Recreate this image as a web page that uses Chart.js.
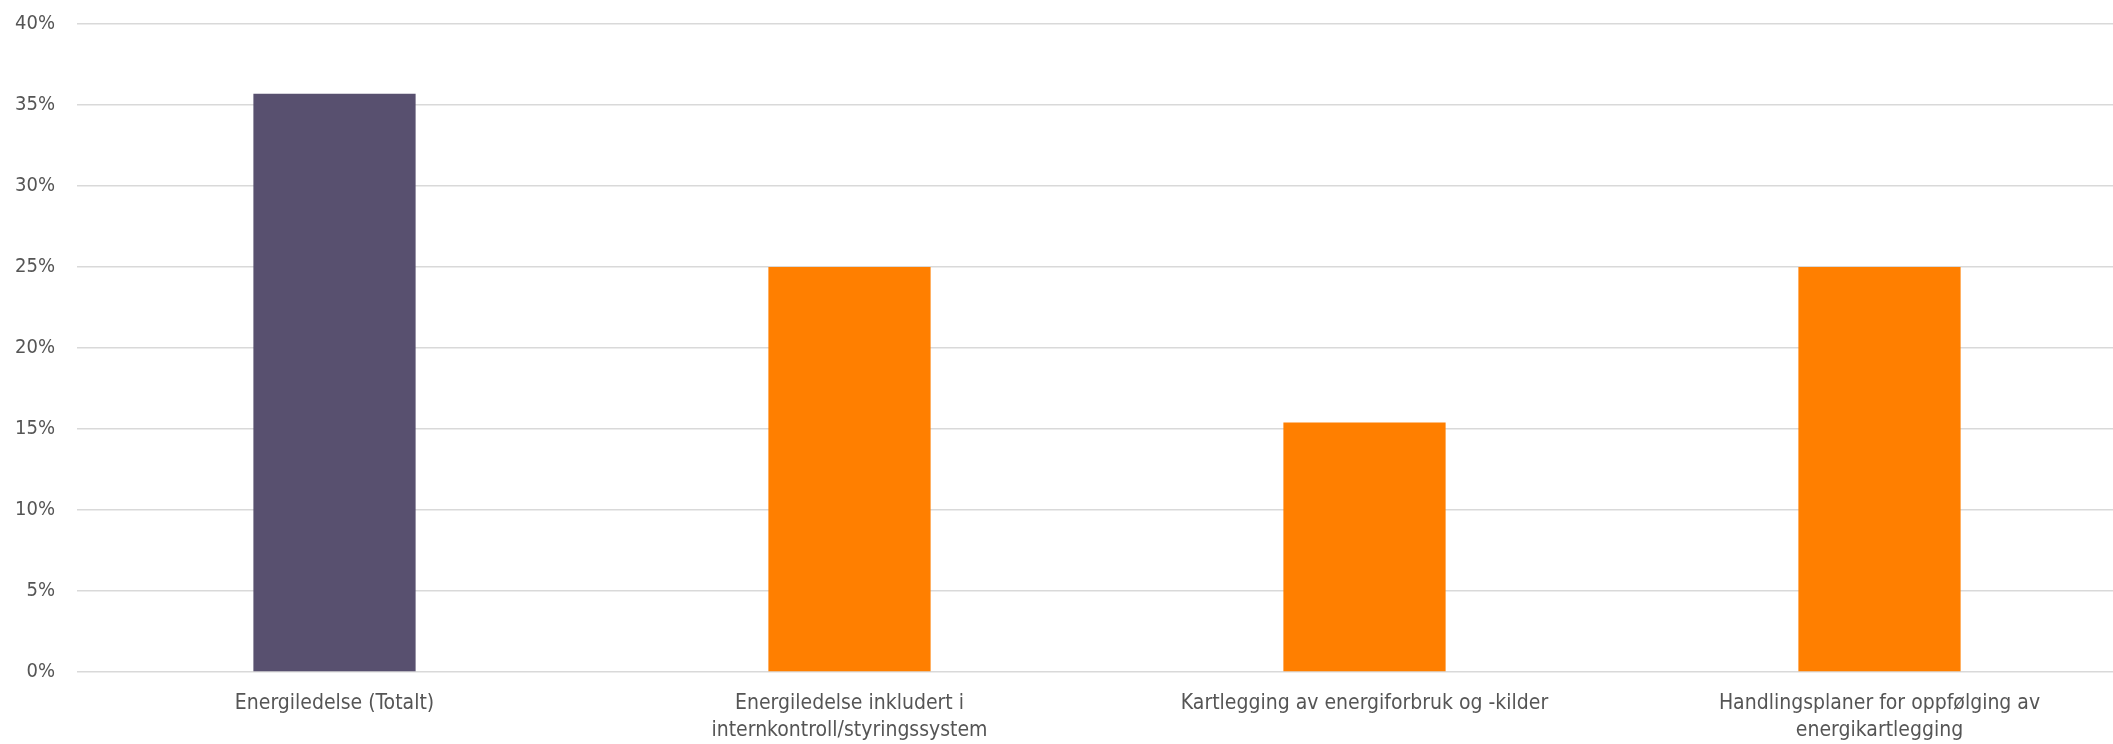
<html><head>
<title>Energiledelse</title>
<style>
  html, body { margin: 0; padding: 0; background: #fff; }
  .clip { width: 2113px; height: 744px; overflow: hidden; position: relative; }
  .wrap { width: 2137px; height: 744px; }
</style>
<script src="https://cdn.jsdelivr.net/npm/chart.js"></script>
</head>
<body>
  <div class="clip"><div class="wrap"><canvas id="chart"></canvas></div></div>
  <script>
    const categories = [
      'Energiledelse (Totalt)',
      ['Energiledelse inkludert i', 'internkontroll/styringssystem'],
      'Kartlegging av energiforbruk og -kilder',
      ['Handlingsplaner for oppfølging av', 'energikartlegging']
    ];
    const values = [0.357, 0.25, 0.154, 0.25];
    const barColors = ['#58506f', '#ff7f00', '#ff7f00', '#ff7f00'];

    const family = "'DejaVu Sans Condensed', sans-serif";

    new Chart(document.getElementById('chart'), {
      type: 'bar',
      data: {
        labels: categories,
        datasets: [{
          data: values,
          backgroundColor: barColors,
          barPercentage: 0.63,
          categoryPercentage: 0.5
        }]
      },
      options: {
        responsive: true,
        maintainAspectRatio: false,
        animation: false,
        layout: { padding: { top: 24, left: 0, right: 0, bottom: 0 } },
        plugins: { legend: { display: false }, tooltip: { enabled: false } },
        scales: {
          x: {
            grid: { display: false, drawTicks: false },
            border: { display: false },
            ticks: { color: '#555555', font: { family: family, size: 21, lineHeight: 1.3 }, padding: 18, maxRotation: 0, autoSkip: false },
            afterFit: s => { s.height = 72; s.paddingLeft = 0; s.paddingRight = 0; }
          },
          y: {
            min: 0,
            max: 0.4,
            border: { display: false },
            grid: { color: '#d9d9d9', lineWidth: 1.5, drawTicks: false },
            ticks: {
              stepSize: 0.05,
              color: '#555555',
              font: { family: family, size: 20 },
              padding: 22,
              callback: v => Math.round(v * 100) + '%'
            },
            afterFit: s => { s.width = 77; s.paddingTop = 0; s.paddingBottom = 0; }
          }
        }
      }
    });
  </script>
</body></html>
